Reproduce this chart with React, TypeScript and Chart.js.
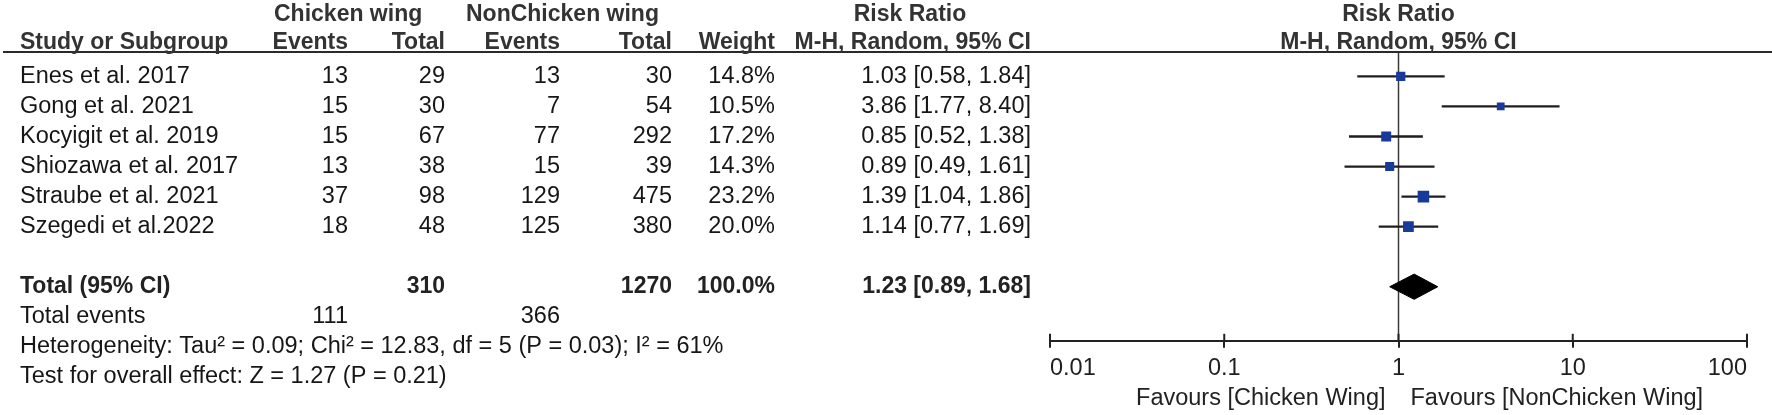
import { useEffect, useRef } from 'react';
import { Chart, registerables } from 'chart.js';

Chart.register(...registerables);

const FONT = '"Liberation Sans", Arial, Helvetica, sans-serif';

// ---- data ----
const studies = [
  'Enes et al. 2017',
  'Gong et al. 2021',
  'Kocyigit et al. 2019',
  'Shiozawa et al. 2017',
  'Straube et al. 2021',
  'Szegedi et al.2022',
];
const cwEvents = [13, 15, 15, 13, 37, 18];
const cwTotal = [29, 30, 67, 38, 98, 48];
const ncEvents = [13, 7, 77, 15, 129, 125];
const ncTotal = [30, 54, 292, 39, 475, 380];
const weights = [14.8, 10.5, 17.2, 14.3, 23.2, 20.0];
const riskRatio = [1.03, 3.86, 0.85, 0.89, 1.39, 1.14];
const ciLow = [0.58, 1.77, 0.52, 0.49, 1.04, 0.77];
const ciHigh = [1.84, 8.4, 1.38, 1.61, 1.86, 1.69];

const pooledRR = 1.23;
const pooledLow = 0.89;
const pooledHigh = 1.68;
const totalWeight = 100.0;
const totalCW = 310;
const totalNC = 1270;
const totalEventsCW = 111;
const totalEventsNC = 366;

const heterogeneityText = 'Heterogeneity: Tau² = 0.09; Chi² = 12.83, df = 5 (P = 0.03); I² = 61%';
const overallText = 'Test for overall effect: Z = 1.27 (P = 0.21)';
const favoursLeft = 'Favours [Chicken Wing]';
const favoursRight = 'Favours [NonChicken Wing]';

const tickValues = [0.01, 0.1, 1, 10, 100];
const tickLabels = ['0.01', '0.1', '1', '10', '100'];

// row indices (y scale units)
const totalRow = 7;
const totalEventsRow = 8;
const heterogeneityRow = 9;
const testRow = 10;
const Y_MIN = -0.812;
const Y_MAX = 8.799;

// column anchors (px)
const COL = {
  study: 20,
  cwEvents: 348,
  cwTotal: 445,
  ncEvents: 560,
  ncTotal: 672,
  weight: 775,
  rr: 1031,
};

const fmtRR = (v: number, lo: number, hi: number) =>
  `${v.toFixed(2)} [${lo.toFixed(2)}, ${hi.toFixed(2)}]`;

const tablePlugin = {
  id: 'forestTable',
  afterDraw(chart: any) {
    const { ctx, chartArea, scales } = chart;
    const ys = scales.y;
    const xs = scales.x;
    const py = (r: number) => ys.getPixelForValue(r);
    const reg = `23.5px ${FONT}`;
    const bold = `bold 23px ${FONT}`;
    const txt = (s: string, x: number, y: number, align: CanvasTextAlign, font: string, color = '#161616') => {
      ctx.font = font;
      ctx.fillStyle = color;
      ctx.textAlign = align;
      ctx.fillText(s, x, y);
    };
    ctx.save();
    ctx.textBaseline = 'middle';
    const top = chartArea.top;

    // header rule
    ctx.strokeStyle = '#2a2a2a';
    ctx.lineWidth = 2;
    ctx.beginPath();
    ctx.moveTo(3, top);
    ctx.lineTo(chart.width, top);
    ctx.stroke();

    const h1 = top - 37;
    const h2 = top - 9;
    const hc = '#333333';
    txt('Chicken wing', 274, h1, 'left', bold, hc);
    txt('NonChicken wing', 466, h1, 'left', bold, hc);
    txt('Risk Ratio', 910, h1, 'center', bold, hc);
    const mid = (chartArea.left + chartArea.right) / 2;
    txt('Risk Ratio', mid, h1, 'center', bold, hc);

    txt('Study or Subgroup', COL.study, h2, 'left', bold, hc);
    txt('Events', COL.cwEvents, h2, 'right', bold, hc);
    txt('Total', COL.cwTotal, h2, 'right', bold, hc);
    txt('Events', COL.ncEvents, h2, 'right', bold, hc);
    txt('Total', COL.ncTotal, h2, 'right', bold, hc);
    txt('Weight', COL.weight, h2, 'right', bold, hc);
    txt('M-H, Random, 95% CI', COL.rr, h2, 'right', bold, hc);
    txt('M-H, Random, 95% CI', mid, h2, 'center', bold, hc);

    // study rows
    studies.forEach((s, i) => {
      const y = py(i);
      txt(s, COL.study, y, 'left', reg);
      txt(String(cwEvents[i]), COL.cwEvents, y, 'right', reg);
      txt(String(cwTotal[i]), COL.cwTotal, y, 'right', reg);
      txt(String(ncEvents[i]), COL.ncEvents, y, 'right', reg);
      txt(String(ncTotal[i]), COL.ncTotal, y, 'right', reg);
      txt(`${weights[i].toFixed(1)}%`, COL.weight, y, 'right', reg);
      txt(fmtRR(riskRatio[i], ciLow[i], ciHigh[i]), COL.rr, y, 'right', reg);
    });

    // total row
    const yt = py(totalRow);
    txt('Total (95% CI)', COL.study, yt, 'left', bold, '#222');
    txt(String(totalCW), COL.cwTotal, yt, 'right', bold, '#222');
    txt(String(totalNC), COL.ncTotal, yt, 'right', bold, '#222');
    txt(`${totalWeight.toFixed(1)}%`, COL.weight, yt, 'right', bold, '#222');
    txt(fmtRR(pooledRR, pooledLow, pooledHigh), COL.rr, yt, 'right', bold, '#222');

    const ye = py(totalEventsRow);
    txt('Total events', COL.study, ye, 'left', reg);
    txt(String(totalEventsCW), COL.cwEvents, ye, 'right', reg);
    txt(String(totalEventsNC), COL.ncEvents, ye, 'right', reg);

    txt(heterogeneityText, COL.study, py(heterogeneityRow), 'left', reg);
    txt(overallText, COL.study, py(testRow), 'left', reg);

    // upper half of axis ticks
    ctx.strokeStyle = '#222';
    ctx.lineWidth = 2;
    tickValues.forEach((v) => {
      const x = xs.getPixelForValue(v);
      ctx.beginPath();
      ctx.moveTo(x, chartArea.bottom - 7);
      ctx.lineTo(x, chartArea.bottom);
      ctx.stroke();
    });

    // favours labels
    const x1 = xs.getPixelForValue(1);
    const yf = chartArea.bottom + 58;
    txt(favoursLeft, x1 - 13, yf, 'right', reg, '#222');
    txt(favoursRight, x1 + 12, yf, 'left', reg, '#222');
    ctx.restore();
  },
};

export default function App() {
  const ref = useRef<HTMLCanvasElement | null>(null);

  useEffect(() => {
    document.body.style.margin = '0';
    const canvas = ref.current;
    if (!canvas) return;

    const ciSets = studies.map((s, i) => ({
      type: 'line' as const,
      label: s,
      data: [
        { x: ciLow[i], y: i },
        { x: ciHigh[i], y: i },
      ],
      borderColor: '#1e1e1e',
      borderWidth: 2.3,
      pointRadius: 0,
      order: 2,
    }));

    const chart = new Chart(canvas, {
      type: 'scatter',
      data: {
        datasets: [
          {
            type: 'line' as const,
            label: 'no effect',
            data: [
              { x: 1, y: Y_MIN },
              { x: 1, y: Y_MAX },
            ],
            borderColor: '#3a3a3a',
            borderWidth: 1.5,
            pointRadius: 0,
            order: 3,
          },
          ...ciSets,
          {
            type: 'scatter' as const,
            label: 'Risk ratio',
            data: riskRatio.map((v, i) => ({ x: v, y: i })),
            pointStyle: 'rect',
            pointRadius: weights.map((w) => (2.4 * Math.sqrt(w)) / Math.SQRT2),
            backgroundColor: '#173a9c',
            borderWidth: 0,
            order: 1,
          },
          {
            type: 'line' as const,
            label: 'Pooled',
            data: [
              { x: pooledLow, y: totalRow },
              { x: pooledRR, y: totalRow - 0.42 },
              { x: pooledHigh, y: totalRow },
              { x: pooledRR, y: totalRow + 0.42 },
              { x: pooledLow, y: totalRow },
            ],
            fill: 'shape',
            backgroundColor: '#000',
            borderColor: '#000',
            borderWidth: 1,
            pointRadius: 0,
            order: 0,
          },
        ] as any,
      },
      options: {
        responsive: true,
        maintainAspectRatio: false,
        animation: false,
        layout: { padding: { left: 1050, right: 25, top: 52, bottom: 25 } },
        plugins: {
          legend: { display: false },
          tooltip: { enabled: false },
        },
        scales: {
          x: {
            type: 'logarithmic',
            position: 'bottom',
            min: tickValues[0],
            max: tickValues[tickValues.length - 1],
            afterBuildTicks: (scale: any) => {
              scale.ticks = tickValues.map((v) => ({ value: v }));
            },
            ticks: {
              autoSkip: false,
              maxRotation: 0,
              align: 'inner',
              padding: 7,
              color: '#1e1e1e',
              font: { family: FONT, size: 23.5 },
              callback: (_v: any, i: number) => tickLabels[i],
            },
            grid: {
              display: true,
              drawOnChartArea: false,
              drawTicks: true,
              tickLength: 7,
              color: '#222',
              lineWidth: 2,
            },
            border: { display: true, color: '#222', width: 2 },
          },
          y: {
            type: 'linear',
            reverse: true,
            min: Y_MIN,
            max: Y_MAX,
            display: false,
          },
        },
      } as any,
      plugins: [tablePlugin],
    });

    return () => chart.destroy();
  }, []);

  return (
    <div style={{ position: 'relative', width: 1772, height: 415, background: '#fff' }}>
      <canvas ref={ref} />
    </div>
  );
}
